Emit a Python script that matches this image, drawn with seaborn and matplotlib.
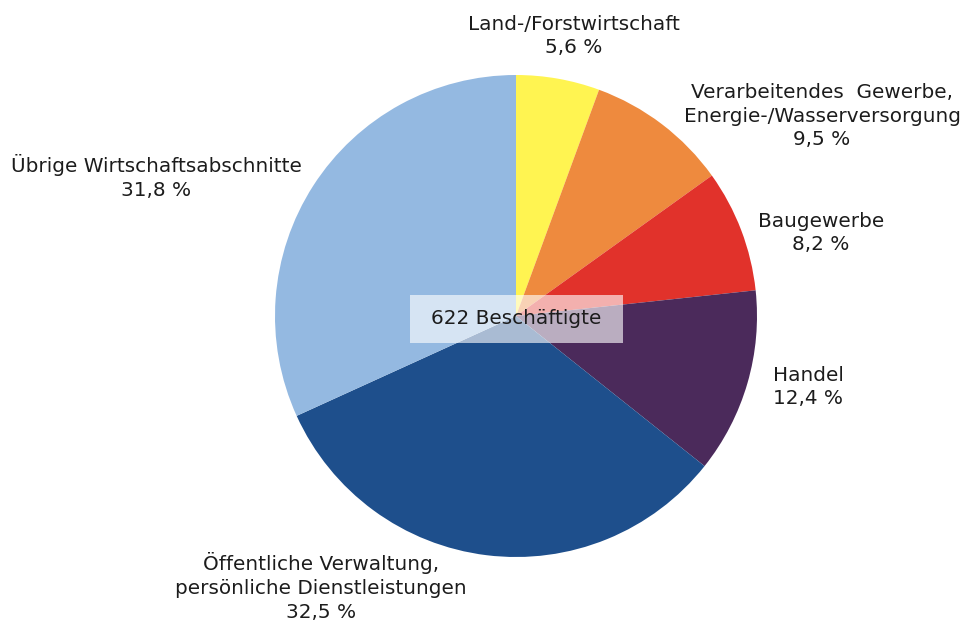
import matplotlib
matplotlib.use("Agg")
import matplotlib.pyplot as plt
from matplotlib.patches import Rectangle
import seaborn as sns

# Employment by economic sector (share in %)
sectors = [
    "Land-/Forstwirtschaft",
    "Verarbeitendes  Gewerbe,\nEnergie-/Wasserversorgung",
    "Baugewerbe",
    "Handel",
    "Öffentliche Verwaltung,\npersönliche Dienstleistungen",
    "Übrige Wirtschaftsabschnitte",
]
shares = [5.6, 9.5, 8.2, 12.4, 32.5, 31.8]
total_label = "622 Beschäftigte"
colors = ["#FFF451", "#EE8A3E", "#E1322B", "#4B2A5B", "#1E4F8C", "#94B9E1"]

sns.set_theme(style="white")
plt.rcParams["font.family"] = ["DejaVu Sans"]

W, H = 968, 623
fig = plt.figure(figsize=(W / 100, H / 100), dpi=100)
ax = fig.add_axes([0, 0, 1, 1])

cx, cy, r = 516, H - 316, 241
ax.pie(shares, colors=sns.color_palette(colors), startangle=90, counterclock=False,
       center=(cx, cy), radius=r, wedgeprops=dict(linewidth=0))
ax.set_xlim(0, W)
ax.set_ylim(0, H)
ax.set_aspect("equal")
ax.axis("off")

FS = 14.4
# label anchor positions (x, y from top)
label_pos = [(574, 36), (822, 116), (821, 233), (808, 387), (321, 587), (156, 177)]
for name, val, (x, y) in zip(sectors, shares, label_pos):
    txt = f"{name}\n{val:.1f} %".replace(".", ",")
    ax.text(x, H - y, txt, ha="center", va="center", fontsize=FS,
            color="#1c1c1c", linespacing=1.33)

# translucent box behind the total in the centre
bw, bh, by = 213, 48, 319
ax.add_patch(Rectangle((cx - bw / 2, H - by - bh / 2), bw, bh,
                       facecolor="white", alpha=0.62, edgecolor="none", zorder=3))
ax.text(cx, H - by, total_label, ha="center", va="center", fontsize=FS,
        color="#1c1c1c", zorder=4)

fig.savefig("out.png", dpi=100)
